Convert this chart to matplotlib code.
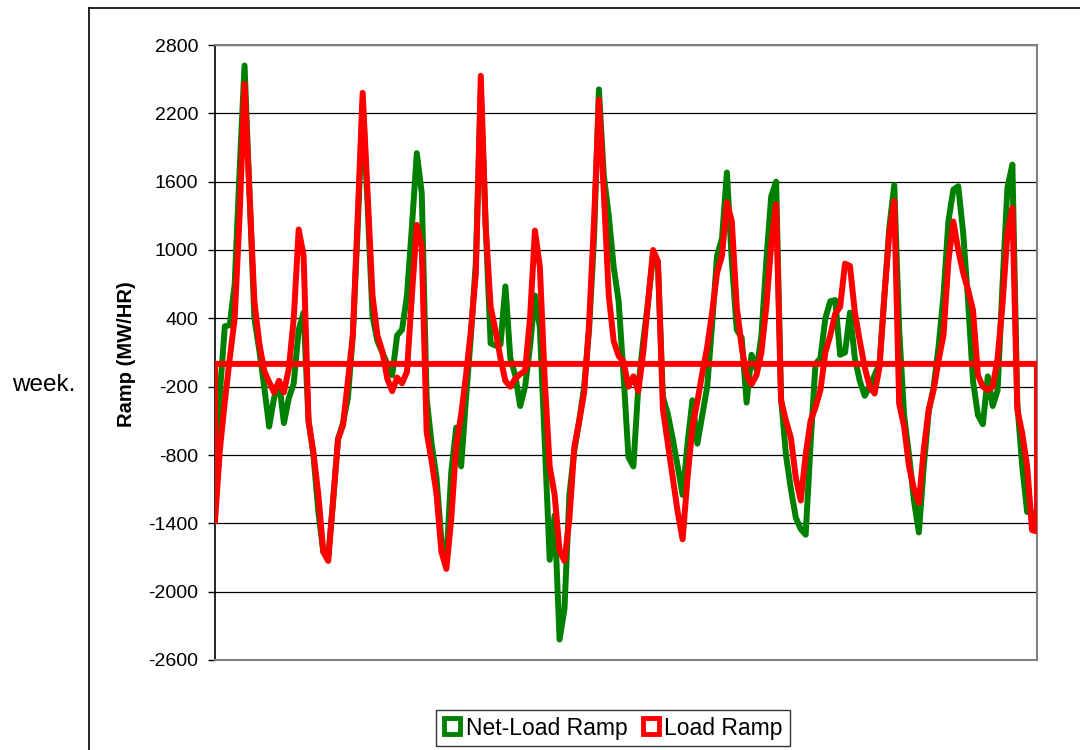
import numpy as np
import matplotlib
matplotlib.use('Agg')
import matplotlib.pyplot as plt
from matplotlib.lines import Line2D

# hourly ramps over one week (MW/HR)
net_load_ramp = [
    -1200, -250, 330, 340, 700, 1700, 2620, 1500, 400, 120,
    -200, -550, -300, -150, -520, -300, -170, 300, 450, -500,
    -800, -1300, -1650, -1700, -1200, -660, -520, -300, 250, 1200,
    2300, 1400, 420, 200, 100, 0, -100, 250, 300, 600,
    1200, 1850, 1500, -300, -700, -1000, -1550, -1750, -950, -560,
    -900, -300, 250, 900, 2400, 1200, 180, 160, 170, 680,
    50, -100, -370, -200, 150, 600, 320, -700, -1720, -1330,
    -2420, -2150, -1150, -760, -500, -200, 300, 1100, 2410, 1650,
    1300, 850, 550, -100, -820, -900, -200, 200, 550, 950,
    850, -290, -440, -660, -900, -1150, -700, -320, -700, -450,
    -200, 350, 950, 1100, 1680, 900, 300, 230, -340, 80,
    -50, 240, 900, 1470, 1600, -300, -800, -1100, -1350, -1450,
    -1500, -700, 0, 50, 400, 550, 560, 80, 100, 450,
    50, -150, -280, -200, -100, 0, 600, 1200, 1570, 300,
    -450, -800, -1200, -1480, -900, -420, -200, 150, 600, 1250,
    1530, 1560, 1150, 550, -150, -450, -530, -110, -370, -230,
    700, 1550, 1750, -350, -900, -1300, -1300, -1330,
]

load_ramp = [
    -1380, -750, -330, 50, 400, 1300, 2460, 1500, 550, 180,
    -60, -160, -250, -150, -250, -40, 400, 1180, 950, -500,
    -780, -1150, -1650, -1730, -1200, -660, -540, -150, 250, 1300,
    2380, 1500, 600, 250, 110, -130, -240, -120, -170, -70,
    600, 1220, 1030, -600, -850, -1140, -1650, -1800, -1360, -720,
    -450, -100, 300, 800, 2530, 1200, 500, 290, 50, -150,
    -200, -130, -90, -60, 400, 1170, 850, -150, -900, -1150,
    -1640, -1730, -1360, -730, -500, -250, 350, 1250, 2320, 1500,
    600, 200, 70, 20, -200, -110, -240, 100, 550, 1000,
    900, -400, -700, -1000, -1300, -1540, -1000, -550, -330, -80,
    150, 450, 800, 950, 1420, 1250, 500, 150, -100, -180,
    -100, 100, 500, 1050, 1400, -320, -500, -650, -1000, -1200,
    -800, -500, -380, -230, 100, 250, 440, 500, 880, 860,
    450, 200, -30, -200, -260, -30, 600, 1150, 1430, -350,
    -550, -900, -1100, -1220, -750, -400, -230, 30, 250, 900,
    1250, 1000, 800, 650, 470, -100, -200, -230, -200, 50,
    530, 1150, 1370, -400, -610, -900, -1460, -1470,
]

# the load series in the source closes back along the zero line
close_level = 0
y_ticks = list(range(-2600, 2801, 600))

hours = np.arange(len(load_ramp))

plt.rcParams['font.family'] = ['Liberation Sans', 'DejaVu Sans']

fig = plt.figure(figsize=(10.8, 7.5), dpi=100, facecolor='white')
ax = fig.add_axes([215 / 1080, 1 - 660 / 750, 822 / 1080, 615 / 750])

ax.plot(hours, net_load_ramp, color='#008000', lw=4.3, solid_joinstyle='round', zorder=3)
x_load = np.concatenate([hours, [hours[-1], hours[0], hours[0]]])
y_load = np.concatenate([load_ramp, [close_level, close_level, load_ramp[0]]])
ax.plot(x_load, y_load, color='#ff0000', lw=4.3, solid_joinstyle='round', zorder=4)

ax.set_xlim(hours[0], hours[-1])
ax.set_ylim(-2600, 2800)
ax.set_yticks(y_ticks)
ax.set_yticklabels([str(t) for t in y_ticks], fontsize=14)
ax.set_xticks([])
ax.tick_params(axis='y', direction='out', length=5, width=1, pad=7)
ax.grid(axis='y', color='black', linewidth=0.9)
ax.set_axisbelow(True)
for side in ['top', 'right', 'bottom']:
    ax.spines[side].set_color('#808080')
    ax.spines[side].set_linewidth(1.5)
ax.spines['left'].set_color('black')
ax.spines['left'].set_linewidth(1.2)

fig.text(126 / 1080, 1 - 354 / 750, 'Ramp (MW/HR)', rotation=90, ha='center', va='center',
         fontsize=14.5, fontweight='bold')
fig.text(44 / 1080, 1 - 385 / 750, 'week.', ha='center', va='center', fontsize=17.5)

# outer frame lines (left and top) of the chart object
fig.add_artist(Line2D([89 / 1080, 89 / 1080], [0, 1 - 8 / 750], color='black', lw=1.2))
fig.add_artist(Line2D([89 / 1080, 1], [1 - 8 / 750, 1 - 8 / 750], color='black', lw=1.2))

handles = [
    Line2D([], [], color='#008000', marker='s', linestyle='none', markersize=11,
           markerfacecolor='white', markeredgewidth=3.5),
    Line2D([], [], color='#ff0000', marker='s', linestyle='none', markersize=11,
           markerfacecolor='white', markeredgewidth=3.5),
]
leg = fig.legend(handles, ['Net-Load Ramp', 'Load Ramp'], loc='center',
                 bbox_to_anchor=(613 / 1080, 1 - 728 / 750), ncol=2, fontsize=16.5,
                 frameon=True, fancybox=False, handlelength=0.8, handletextpad=0.2,
                 columnspacing=0.6, borderpad=0.3)
leg.get_frame().set_edgecolor('black')
leg.get_frame().set_linewidth(1.0)

fig.savefig('out.png', dpi=100)
